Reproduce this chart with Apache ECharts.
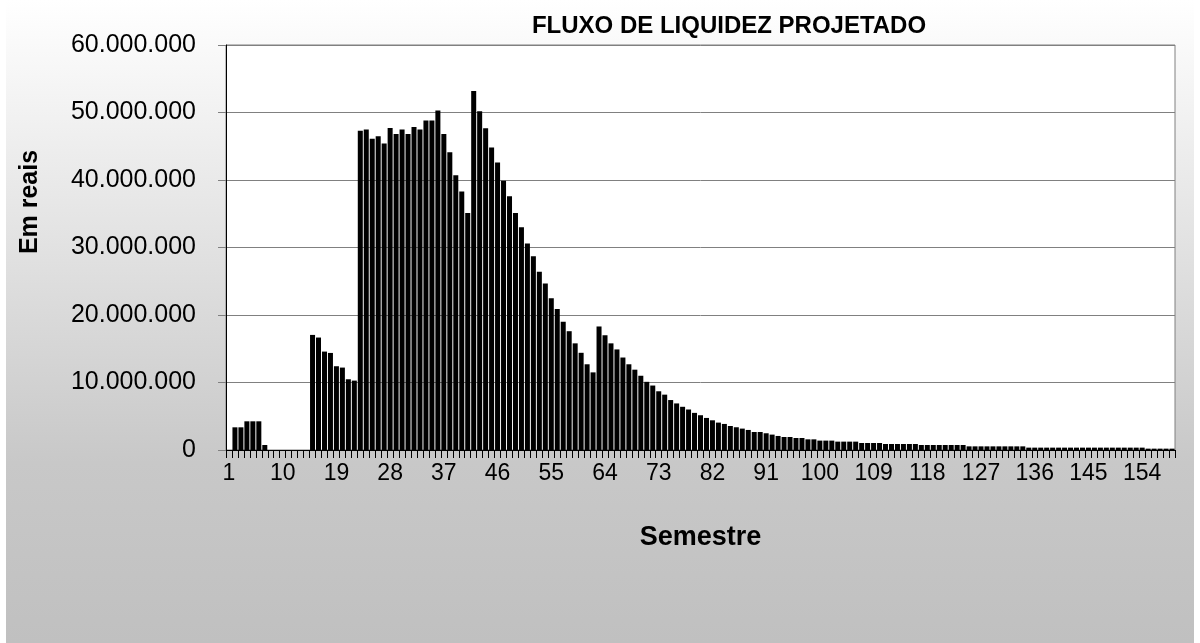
<!DOCTYPE html>
<html>
<head>
<meta charset="utf-8">
<script src="https://cdn.jsdelivr.net/npm/echarts@6/dist/echarts.min.js"></script>
<style>
  html, body { margin: 0; padding: 0; background: #fff; }
  #chart { width: 1200px; height: 643px; }
</style>
</head>
<body>
<div id="chart"></div>
<script>
// Fluxo projetado por semestre, em milhoes de reais
var semestres = [];
for (var i = 1; i <= 159; i++) semestres.push(String(i));

var fluxo = [
  0, 3.36, 3.36, 4.25, 4.25, 4.25, 0.74,
  0, 0, 0, 0, 0, 0, 0,
  17.05, 16.66, 14.58, 14.38, 12.41, 12.21, 10.48, 10.28,
  47.3, 47.5, 46.1, 46.5, 45.4, 47.7, 46.8, 47.5, 46.8, 47.85,
  47.5, 48.8, 48.8, 50.3, 46.8, 44.1, 40.7, 38.3, 35.1, 53.2,
  50.2, 47.65, 44.8, 42.6, 39.9, 37.6, 35.1, 33.0, 30.6, 28.7,
  26.4, 24.65, 22.5, 20.9, 19.0, 17.6, 15.8, 14.4, 12.7, 11.5,
  18.3, 17.0, 15.8, 14.9, 13.7, 12.7, 11.9, 11.0, 10.1, 9.55,
  8.7, 8.2, 7.4, 6.9, 6.4, 6.0, 5.5, 5.15, 4.75, 4.4,
  4.06, 3.86, 3.56, 3.37, 3.17, 2.97, 2.67, 2.67, 2.48, 2.28,
  2.08, 1.93, 1.93, 1.78, 1.78, 1.58, 1.58, 1.39, 1.39, 1.39,
  1.24, 1.24, 1.24, 1.24, 1.04, 1.04, 1.04, 1.04,
  0.89, 0.89, 0.89, 0.89, 0.89, 0.89,
  0.74, 0.74, 0.74, 0.74, 0.74, 0.74, 0.74, 0.74,
  0.54, 0.54, 0.54, 0.54, 0.54, 0.54, 0.54, 0.54, 0.54, 0.54,
  0.35, 0.35, 0.35, 0.35, 0.35, 0.35, 0.35, 0.35, 0.35, 0.35,
  0.35, 0.35, 0.35, 0.35, 0.35, 0.35, 0.35, 0.35, 0.35, 0.35,
  0.2, 0.2, 0.2, 0.2, 0.2
];

var yMax = 60;
var yStep = 10;

function reais(v) {
  return String(Math.round(v * 1000000)).replace(/\B(?=(\d{3})+(?!\d))/g, '.');
}

var font = '"Liberation Sans", Arial, sans-serif';
var chart = echarts.init(document.getElementById('chart'));

chart.setOption({
  animation: false,
  textStyle: { fontFamily: font },
  graphic: [
    {
      type: 'rect',
      z: -10,
      silent: true,
      shape: { x: 6, y: 0, width: 1188, height: 643 },
      style: {
        fill: {
          type: 'linear', x: 0, y: 0, x2: 0, y2: 1,
          colorStops: [
            { offset: 0, color: '#ffffff' },
            { offset: 0.72, color: '#c8c8c8' },
            { offset: 1, color: '#c0c0c0' }
          ]
        }
      }
    },
    {
      type: 'text',
      x: 30,
      y: 202,
      rotation: Math.PI / 2,
      style: {
        text: 'Em reais',
        font: 'bold 25px ' + font,
        fill: '#000',
        align: 'center',
        verticalAlign: 'middle'
      }
    }
  ],
  title: {
    text: 'FLUXO DE LIQUIDEZ PROJETADO',
    left: 724,
    top: 9,
    textAlign: 'center',
    textStyle: { fontSize: 24, fontWeight: 'bold', color: '#000', fontFamily: font }
  },
  grid: {
    left: 226,
    right: 25,
    top: 45,
    bottom: 193,
    show: true,
    backgroundColor: '#ffffff',
    borderColor: '#808080',
    borderWidth: 1
  },
  xAxis: {
    type: 'category',
    data: semestres,
    name: 'Semestre',
    nameLocation: 'middle',
    nameGap: 74,
    nameTextStyle: { fontSize: 27, fontWeight: 'bold', color: '#000' },
    axisLine: { show: true, lineStyle: { color: '#000', width: 1 } },
    axisTick: { show: true, interval: 0, length: 8, lineStyle: { color: '#000', width: 1 } },
    axisLabel: { show: true, interval: 8, margin: 12, fontSize: 23, color: '#000' }
  },
  yAxis: {
    type: 'value',
    min: 0,
    max: yMax,
    interval: yStep,
    axisLine: { show: true, lineStyle: { color: '#000', width: 1 } },
    axisTick: { show: true, length: 8, lineStyle: { color: '#808080' } },
    axisLabel: { margin: 30, fontSize: 25, color: '#000', formatter: reais },
    splitLine: { lineStyle: { color: '#808080', width: 1 } }
  },
  series: [{
    type: 'bar',
    data: fluxo,
    barCategoryGap: '16%',
    itemStyle: { color: '#000' }
  }]
});
</script>
</body>
</html>
